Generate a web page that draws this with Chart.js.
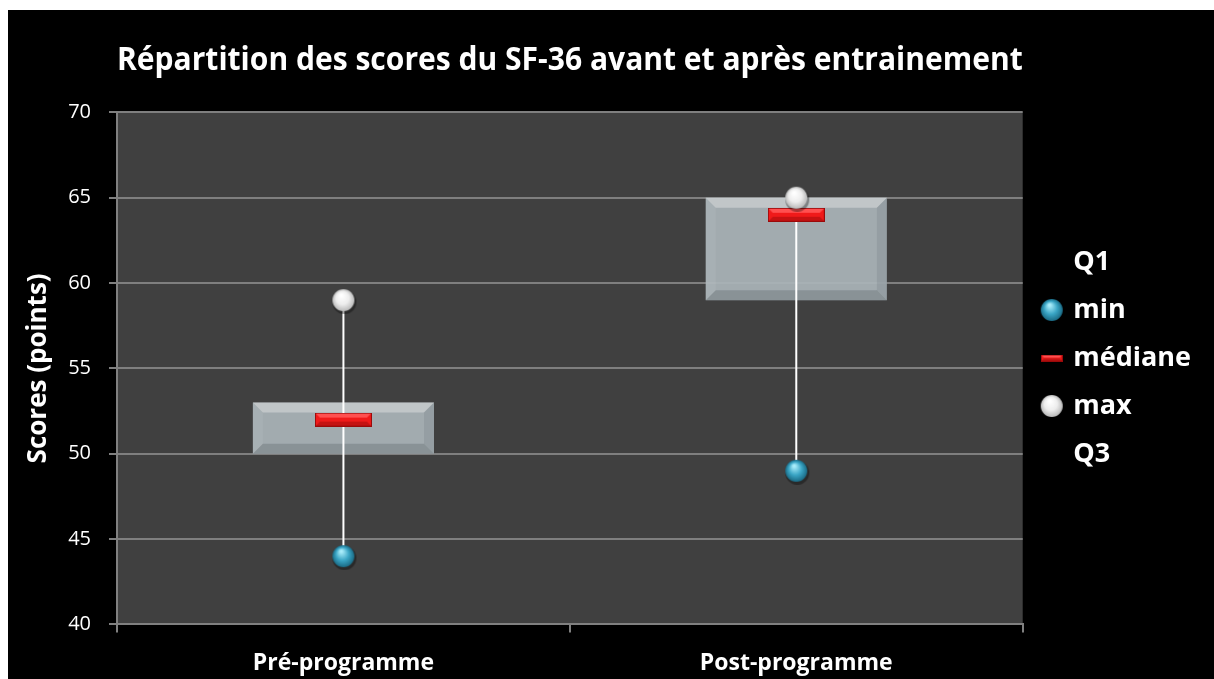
<!DOCTYPE html>
<html>
<head>
<meta charset="utf-8">
<script src="https://cdn.jsdelivr.net/npm/chart.js@4.4.0/dist/chart.umd.min.js"></script>
<style>
html, body { margin: 0; padding: 0; background: #fff; }
#wrap { position: absolute; left: 8px; top: 10px; width: 1206px; height: 669px; background: #000; }
</style>
</head>
<body>
<div id="wrap"><canvas id="chart" width="1206" height="669"></canvas></div>
<script>
// valeurs
var categories = ['Pré-programme', 'Post-programme'];
var minVals = [44, 49];
var q1Vals = [50, 59];
var medianVals = [52, 64];
var q3Vals = [53, 65];
var maxVals = [59, 65];
var legendLabels = ['Q1', 'min', 'médiane', 'max', 'Q3'];

function makeSphere(r, c0, c1, c2) {
	var size = r * 2 + 6;
	var cv = document.createElement('canvas');
	cv.width = size;
	cv.height = size;
	var ctx = cv.getContext('2d');
	var cx = size / 2, cy = size / 2;
	ctx.fillStyle = 'rgba(0,0,0,0.35)';
	ctx.beginPath();
	ctx.arc(cx + 1, cy + 2, r + 1, 0, Math.PI * 2);
	ctx.fill();
	var g = ctx.createRadialGradient(cx - r * 0.2, cy - r * 0.45, r * 0.1, cx, cy, r);
	g.addColorStop(0, c0);
	g.addColorStop(0.55, c1);
	g.addColorStop(1, c2);
	ctx.fillStyle = g;
	ctx.beginPath();
	ctx.arc(cx, cy, r, 0, Math.PI * 2);
	ctx.fill();
	return cv;
}

function makeMedian(w, h) {
	var cv = document.createElement('canvas');
	cv.width = w;
	cv.height = h;
	var ctx = cv.getContext('2d');
	var d = Math.min(4, h / 3);
	ctx.fillStyle = '#9a0a0a';
	ctx.fillRect(0, 0, w, h);
	ctx.fillStyle = '#f01a1a';
	ctx.fillRect(1, 1, w - 2, h - 2);
	ctx.fillStyle = '#ff5050';
	ctx.beginPath();
	ctx.moveTo(1, 1); ctx.lineTo(w - 1, 1); ctx.lineTo(w - 1 - d, 1 + d); ctx.lineTo(1 + d, 1 + d);
	ctx.closePath();
	ctx.fill();
	ctx.fillStyle = '#c51212';
	ctx.beginPath();
	ctx.moveTo(1, h - 1); ctx.lineTo(w - 1, h - 1); ctx.lineTo(w - 1 - d, h - 1 - d); ctx.lineTo(1 + d, h - 1 - d);
	ctx.closePath();
	ctx.fill();
	return cv;
}

function blank() {
	var cv = document.createElement('canvas');
	cv.width = 1;
	cv.height = 1;
	return cv;
}

var sphereTeal = makeSphere(11, '#a8ecfa', '#3aa5c5', '#1a6a84');
var sphereWhite = makeSphere(11, '#ffffff', '#ededed', '#b9b9b9');
var medianImg = makeMedian(57, 14);
var legendMarkers = [blank(), sphereTeal, makeMedian(22, 7), sphereWhite, blank()];

var plotBg = {
	id: 'plotBg',
	beforeDraw: function (chart) {
		var a = chart.chartArea;
		chart.ctx.save();
		chart.ctx.fillStyle = '#404040';
		chart.ctx.fillRect(a.left, a.top, a.right - a.left, a.bottom - a.top);
		chart.ctx.restore();
	}
};

// biseau des boites
var boxBevel = {
	id: 'boxBevel',
	afterDatasetDraw: function (chart, args) {
		if (args.meta.label !== 'Q3') return;
		var ctx = chart.ctx;
		args.meta.data.forEach(function (bar) {
			var p = bar.getProps(['x', 'y', 'base', 'width'], true);
			var l = p.x - p.width / 2, r = p.x + p.width / 2;
			var t = Math.min(p.y, p.base), b = Math.max(p.y, p.base);
			var d = 10;
			ctx.save();
			ctx.fillStyle = 'rgba(230,230,230,0.45)';
			ctx.beginPath();
			ctx.moveTo(l, t); ctx.lineTo(r, t); ctx.lineTo(r - d, t + d); ctx.lineTo(l + d, t + d);
			ctx.closePath();
			ctx.fill();
			ctx.fillStyle = 'rgba(80,90,94,0.3)';
			ctx.beginPath();
			ctx.moveTo(l, b); ctx.lineTo(r, b); ctx.lineTo(r - d, b - d); ctx.lineTo(l + d, b - d);
			ctx.closePath();
			ctx.fill();
			ctx.fillStyle = 'rgba(200,205,208,0.15)';
			ctx.beginPath();
			ctx.moveTo(l, t); ctx.lineTo(l + d, t + d); ctx.lineTo(l + d, b - d); ctx.lineTo(l, b);
			ctx.closePath();
			ctx.fill();
			ctx.fillStyle = 'rgba(100,110,114,0.2)';
			ctx.beginPath();
			ctx.moveTo(r, t); ctx.lineTo(r - d, t + d); ctx.lineTo(r - d, b - d); ctx.lineTo(r, b);
			ctx.closePath();
			ctx.fill();
			ctx.restore();
		});
	}
};

var ctx = document.getElementById('chart').getContext('2d');
var chart = new Chart(ctx, {
	type: 'bar',
	data: {
		labels: categories,
		datasets: [
			{ type: 'line', label: 'max', data: maxVals, showLine: false, pointStyle: sphereWhite, order: 0 },
			{ type: 'line', label: 'min', data: minVals, showLine: false, pointStyle: sphereTeal, order: 1 },
			{ type: 'line', label: 'médiane', data: medianVals, showLine: false, pointStyle: medianImg, order: 2 },
			{
				type: 'bar', label: 'moustache',
				data: minVals.map(function (v, i) { return [v, maxVals[i]]; }),
				backgroundColor: '#ffffff', maxBarThickness: 2, grouped: false, order: 3
			},
			{
				type: 'bar', label: 'Q3',
				data: q1Vals.map(function (v, i) { return [v, q3Vals[i]]; }),
				backgroundColor: 'rgba(170,180,184,0.92)', grouped: false,
				barPercentage: 0.4, categoryPercentage: 1, order: 4
			}
		]
	},
	options: {
		responsive: false,
		animation: false,
		events: [],
		layout: { padding: { left: 0, right: 13, top: 12, bottom: -15 } },
		plugins: {
			tooltip: { enabled: false },
			title: {
				display: true,
				text: 'Répartition des scores du SF-36 avant et après entrainement',
				color: '#ffffff',
				fullSize: false,
				font: { family: 'Open Sans', size: 32, weight: 'bold' },
				padding: { top: 20, bottom: 32 }
			},
			legend: {
				position: 'right',
				labels: {
					usePointStyle: true,
					pointStyleWidth: 16,
					padding: 21,
					color: '#ffffff',
					font: { family: 'Open Sans', size: 27, weight: 'bold' },
					generateLabels: function (chart) {
						return legendLabels.map(function (t, i) {
							return {
								text: t, fontColor: '#ffffff', pointStyle: legendMarkers[i],
								hidden: false, lineWidth: 0, strokeStyle: 'rgba(0,0,0,0)',
								fillStyle: 'rgba(0,0,0,0)', datasetIndex: i
							};
						});
					}
				}
			}
		},
		scales: {
			x: {
				offset: true,
				grid: { display: true, drawOnChartArea: false, drawTicks: true, tickLength: 8, color: '#808080', lineWidth: 2, offset: true },
				border: { display: true, color: '#808080', width: 2 },
				ticks: { color: '#ffffff', padding: 17, font: { family: 'Open Sans', size: 23, weight: 'bold' } }
			},
			y: {
				min: 40,
				max: 70,
				ticks: { stepSize: 5, color: '#ffffff', padding: 18, font: { family: 'Open Sans', size: 20 } },
				grid: { color: '#7f7f7f', lineWidth: 2, tickLength: 8 },
				border: { display: true, color: '#808080', width: 2 },
				title: {
					display: true,
					text: 'Scores (points)',
					color: '#ffffff',
					font: { family: 'Open Sans', size: 26, weight: 'bold' },
					padding: { top: 15, bottom: 0 }
				},
				afterFit: function (scale) { scale.width = 109; }
			}
		}
	},
	plugins: [plotBg, boxBevel]
});
</script>
</body>
</html>
